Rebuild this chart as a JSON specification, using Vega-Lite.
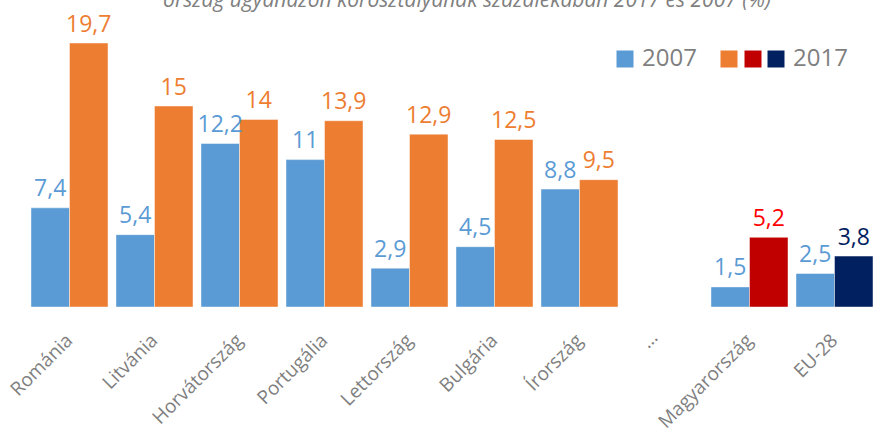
{
  "$schema": "https://vega.github.io/schema/vega-lite/v6.json",
  "width": 850,
  "height": 268,
  "autosize": {"type": "none"},
  "padding": {"left": 27, "top": 39, "right": 0, "bottom": 129},
  "background": "white",
  "title": {
    "text": "ország ugyanazon korosztályának százalékában 2017 és 2007 (%)",
    "anchor": "middle",
    "frame": "group",
    "baseline": "alphabetic",
    "offset": -14,
    "dx": 15,
    "font": "Open Sans",
    "fontSize": 21,
    "fontStyle": "italic",
    "fontWeight": "normal",
    "color": "#7f7f7f"
  },
  "data": {
    "values": [
      {"country": "Románia", "year": "2007", "group": "2007", "value": 7.4},
      {"country": "Románia", "year": "2017", "group": "2017", "value": 19.7},
      {"country": "Litvánia", "year": "2007", "group": "2007", "value": 5.4},
      {"country": "Litvánia", "year": "2017", "group": "2017", "value": 15},
      {"country": "Horvátország", "year": "2007", "group": "2007", "value": 12.2},
      {"country": "Horvátország", "year": "2017", "group": "2017", "value": 14},
      {"country": "Portugália", "year": "2007", "group": "2007", "value": 11},
      {"country": "Portugália", "year": "2017", "group": "2017", "value": 13.9},
      {"country": "Lettország", "year": "2007", "group": "2007", "value": 2.9},
      {"country": "Lettország", "year": "2017", "group": "2017", "value": 12.9},
      {"country": "Bulgária", "year": "2007", "group": "2007", "value": 4.5},
      {"country": "Bulgária", "year": "2017", "group": "2017", "value": 12.5},
      {"country": "Írország", "year": "2007", "group": "2007", "value": 8.8},
      {"country": "Írország", "year": "2017", "group": "2017", "value": 9.5},
      {"country": "Magyarország", "year": "2007", "group": "2007", "value": 1.5},
      {"country": "Magyarország", "year": "2017", "group": "2017 HU", "value": 5.2},
      {"country": "EU-28", "year": "2007", "group": "2007", "value": 2.5},
      {"country": "EU-28", "year": "2017", "group": "2017 EU", "value": 3.8}
    ]
  },
  "encoding": {
    "x": {
      "field": "country",
      "type": "nominal",
      "sort": null,
      "title": null,
      "scale": {
        "domain": ["Románia", "Litvánia", "Horvátország", "Portugália", "Lettország", "Bulgária", "Írország", "...", "Magyarország", "EU-28"],
        "paddingInner": 0.094,
        "paddingOuter": 0.047
      },
      "axis": {
        "labelAngle": -45,
        "labelAlign": "right",
        "labelBaseline": "middle",
        "labelPadding": {"condition": {"test": "datum.value === '...'", "value": 27}, "value": 30},
        "labelOffset": {"condition": {"test": "datum.value === '...'", "value": -10}, "value": 0},
        "ticks": false,
        "domain": false,
        "grid": false,
        "labelFont": "Open Sans",
        "labelFontSize": 19,
        "labelColor": "#7f7f7f",
        "labelOverlap": false,
        "labelLimit": 0,
        "encode": {
          "labels": {
            "update": {
              "angle": {"signal": "datum.value === '...' ? 0 : -45"},
              "align": {"signal": "datum.value === '...' ? 'center' : 'right'"}
            }
          }
        }
      }
    },
    "xOffset": {
      "field": "year",
      "type": "nominal",
      "scale": {"domain": ["2007", "2017"], "paddingInner": 0, "paddingOuter": 0}
    },
    "y": {
      "field": "value",
      "type": "quantitative",
      "scale": {"domain": [0, 20], "nice": false},
      "axis": null
    }
  },
  "layer": [
    {
      "transform": [{"filter": "datum.group === '2007'"}],
      "mark": {"type": "bar", "stroke": "#ffffff", "strokeWidth": 0.75, "strokeOpacity": 0.6},
      "encoding": {
        "color": {
          "field": "group",
          "type": "nominal",
          "scale": {"domain": ["2007"], "range": ["#5B9BD5"]},
          "legend": {
            "orient": "none", "legendX": 586, "legendY": 8, "title": null,
            "symbolType": "square", "symbolSize": 289, "symbolStrokeWidth": 0,
            "labelFont": "Open Sans", "labelFontSize": 24, "labelColor": "#7f7f7f",
            "labelOffset": 5, "labelLimit": 0
          }
        }
      }
    },
    {
      "transform": [{"filter": "datum.group === '2017'"}],
      "mark": {"type": "bar", "stroke": "#ffffff", "strokeWidth": 0.75, "strokeOpacity": 0.6},
      "encoding": {
        "color": {
          "field": "group",
          "type": "nominal",
          "scale": {"domain": ["2017"], "range": ["#ED7D31"]},
          "legend": {
            "orient": "none", "legendX": 690, "legendY": 8, "title": null,
            "symbolType": "square", "symbolSize": 289, "symbolStrokeWidth": 0,
            "labelFont": "Open Sans", "labelFontSize": 24, "labelColor": "#7f7f7f",
            "labelExpr": "''"
          }
        }
      }
    },
    {
      "transform": [{"filter": "datum.group === '2017 HU'"}],
      "mark": {"type": "bar", "stroke": "#ffffff", "strokeWidth": 0.75, "strokeOpacity": 0.6},
      "encoding": {
        "color": {
          "field": "group",
          "type": "nominal",
          "scale": {"domain": ["2017 HU"], "range": ["#C00000"]},
          "legend": {
            "orient": "none", "legendX": 714, "legendY": 8, "title": null,
            "symbolType": "square", "symbolSize": 289, "symbolStrokeWidth": 0,
            "labelFont": "Open Sans", "labelFontSize": 24, "labelColor": "#7f7f7f",
            "labelExpr": "''"
          }
        }
      }
    },
    {
      "transform": [{"filter": "datum.group === '2017 EU'"}],
      "mark": {"type": "bar", "stroke": "#ffffff", "strokeWidth": 0.75, "strokeOpacity": 0.6},
      "encoding": {
        "color": {
          "field": "group",
          "type": "nominal",
          "scale": {"domain": ["2017 EU"], "range": ["#002060"]},
          "legend": {
            "orient": "none", "legendX": 737, "legendY": 8, "title": null,
            "symbolType": "square", "symbolSize": 289, "symbolStrokeWidth": 0,
            "labelFont": "Open Sans", "labelFontSize": 24, "labelColor": "#7f7f7f",
            "labelOffset": 5, "labelLimit": 0,
            "labelExpr": "'2017'"
          }
        }
      }
    },
    {
      "mark": {"type": "text", "baseline": "alphabetic", "dy": -11.5, "font": "Open Sans", "fontSize": 23},
      "encoding": {
        "text": {"field": "value", "type": "quantitative", "format": ".1~f"},
        "fill": {
          "field": "group",
          "type": "nominal",
          "scale": {
            "domain": ["2007", "2017", "2017 HU", "2017 EU"],
            "range": ["#5B9BD5", "#ED7D31", "#FF0000", "#002060"]
          },
          "legend": null
        }
      }
    }
  ],
  "resolve": {"scale": {"color": "independent"}, "legend": {"color": "independent"}},
  "config": {
    "view": {"stroke": null},
    "locale": {
      "number": {"decimal": ",", "thousands": "\u00a0", "grouping": [3], "currency": ["", ""]}
    }
  }
}
